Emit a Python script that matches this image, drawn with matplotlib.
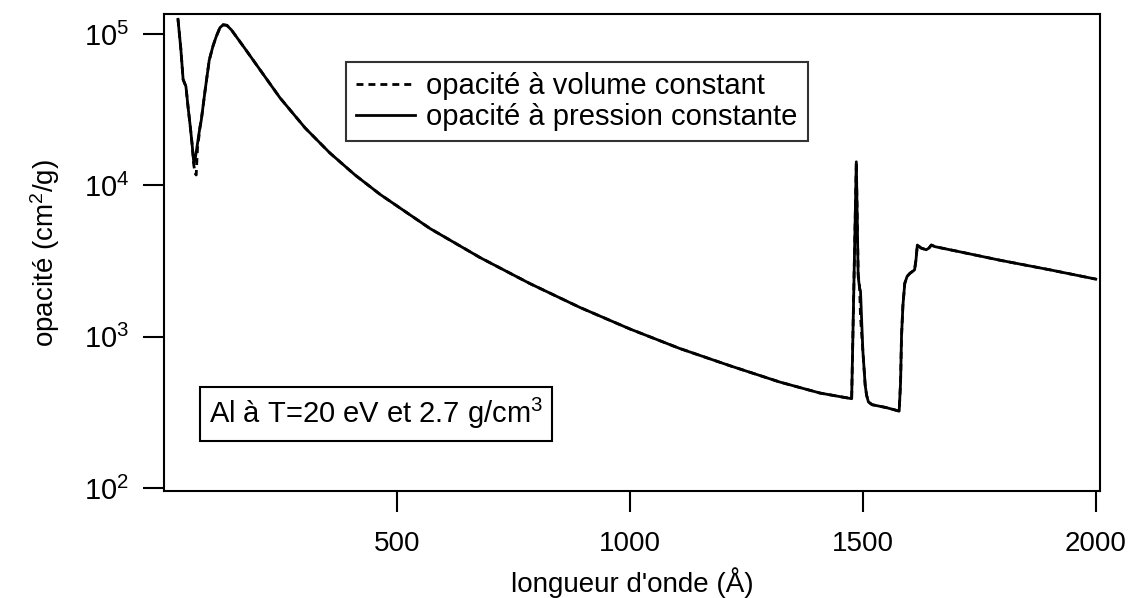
import numpy as np
import matplotlib
matplotlib.use("Agg")
import matplotlib.pyplot as plt
from matplotlib.ticker import LogLocator, LogFormatterMathtext, NullLocator

plt.rcParams['font.family'] = ['Liberation Sans', 'DejaVu Sans']
plt.rcParams['mathtext.fontset'] = 'custom'
plt.rcParams['mathtext.rm'] = 'Liberation Sans'
plt.rcParams['mathtext.it'] = 'Liberation Sans:italic'

# wavelength grid (Angstrom)
wl = [30, 36, 41, 47, 52, 56, 60, 64, 67, 69, 72, 75, 77, 80, 88, 97, 105, 112,
      120, 127, 135, 145, 174, 206, 249, 303, 356, 410, 464, 571, 678, 785, 893,
      1000, 1107, 1215, 1322, 1408, 1476, 1486, 1490, 1493, 1495, 1500, 1505,
      1508, 1512, 1520, 1550, 1578, 1581, 1583, 1586, 1590, 1595, 1601, 1611,
      1614, 1617, 1625, 1636, 1642, 1647, 1655, 1700, 1794, 1900, 2000]

# opacity at constant pressure (solid)
kap_p = [1.25e5, 8.0e4, 5.0e4, 4.5e4, 3.2e4, 2.5e4, 1.9e4, 1.4e4, 1.5e4, 1.65e4,
         1.9e4, 2.2e4, 2.4e4, 2.7e4, 4.2e4, 6.7e4, 8.3e4, 9.6e4,
         1.1e5, 1.15e5, 1.14e5, 1.06e5, 7.98e4, 5.8e4, 3.78e4, 2.39e4, 1.635e4,
         1.17e4, 8.7e3, 5.18e3, 3.335e3, 2.245e3, 1.558e3,
         1.124e3, 835, 642, 501, 424, 389, 1.43e4, 2.5e3, 2.1e3, 2.0e3, 811, 480,
         411, 370, 355, 340, 322, 500, 1.0e3, 1.6e3, 2.25e3, 2.5e3, 2.62e3, 2.76e3,
         3.2e3, 4.03e3, 3.85e3, 3.75e3, 3.85e3, 4.03e3, 3.93e3, 3.68e3, 3.2e3,
         2.77e3, 2.4e3]

# opacity at constant volume (dashed)
kap_v = [1.25e5, 8.0e4, 5.0e4, 4.5e4, 3.2e4, 2.5e4, 1.9e4, 1.35e4, 1.2e4, 1.17e4,
         1.8e4, 2.1e4, 2.4e4, 2.7e4, 4.2e4, 6.7e4, 8.3e4, 9.6e4,
         1.1e5, 1.15e5, 1.14e5, 1.06e5, 7.98e4, 5.8e4, 3.78e4, 2.39e4, 1.635e4,
         1.17e4, 8.7e3, 5.18e3, 3.335e3, 2.245e3, 1.558e3,
         1.124e3, 835, 642, 501, 424, 389, 1.43e4, 2.6e3, 2.14e3, 1.35e3, 811, 480,
         411, 370, 355, 340, 322, 500, 1.0e3, 1.6e3, 2.25e3, 2.5e3, 2.62e3, 2.76e3,
         3.2e3, 4.03e3, 3.85e3, 3.75e3, 3.85e3, 4.03e3, 3.93e3, 3.68e3, 3.2e3,
         2.77e3, 2.4e3]

x_ticks = [500, 1000, 1500, 2000]

fig, ax = plt.subplots(figsize=(11.32, 5.98), dpi=100)
fig.subplots_adjust(left=0.1449, right=0.9717, top=0.9758, bottom=0.1789)

ax.plot(wl, kap_v, color='black', lw=2, linestyle=(0, (2.5, 1.8)),
        label=u"opacité à volume constant", zorder=3)
ax.plot(wl, kap_p, color='black', lw=2, label=u"opacité à pression constante",
        zorder=2)

ax.set_yscale('log')
ax.set_xlim(0, 2009)
ax.set_ylim(95.5, 1.345e5)
ax.set_xticks(x_ticks)
ax.yaxis.set_major_locator(LogLocator(base=10, numticks=10))
ax.yaxis.set_major_formatter(LogFormatterMathtext())
ax.yaxis.set_minor_locator(NullLocator())

for sp in ax.spines.values():
    sp.set_linewidth(1.5)
ax.tick_params(axis='both', which='major', direction='out', length=15, width=1.5)
ax.tick_params(axis='x', pad=14, labelsize=20)
ax.tick_params(axis='y', pad=10, labelsize=21)

ax.set_xlabel(u"longueur d'onde (Å)", fontsize=20, labelpad=7)
ax.set_ylabel(u"opacité (cm$^2$/g)", fontsize=20, labelpad=16)

leg = ax.legend(loc='upper left', bbox_to_anchor=(0.1945, 0.900), fontsize=21,
                frameon=True, fancybox=False, borderaxespad=0, handlelength=2.0,
                handletextpad=0.4, labelspacing=0.1, borderpad=0.35)
leg.get_frame().set_edgecolor('black')
leg.get_frame().set_linewidth(1.5)

ax.text(0.048, 0.125, u"Al à T=20 eV et 2.7 g/cm$^3$", transform=ax.transAxes,
        fontsize=21, ha='left', va='bottom',
        bbox=dict(boxstyle='square,pad=0.32', fc='white', ec='black', lw=1.5))

fig.savefig("out.png", dpi=100)
